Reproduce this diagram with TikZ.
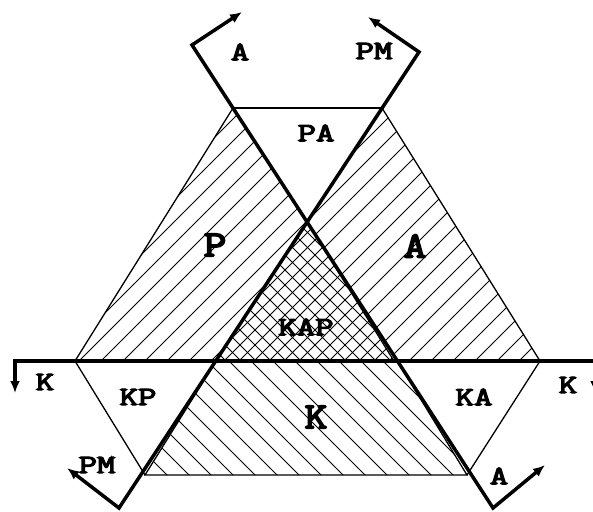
\documentclass[tikz,border=0pt]{standalone}
\usepackage{fontspec}
\newfontfamily\labfont{Latin Modern Mono}[FakeBold=4]
\usetikzlibrary{arrows.meta}
\tikzset{
  thickln/.style={line width=3.5pt, line join=miter, line cap=butt},
  thinln/.style={line width=1.3pt, line join=miter},
  hatchln/.style={line width=0.9pt},
  lab/.style={font=\labfont\bfseries\fontsize{26.5}{26.5}\selectfont, inner sep=0pt},
  biglab/.style={font=\labfont\bfseries\fontsize{37}{37}\selectfont, inner sep=0pt},
}
\newcommand{\wide}[1]{\scalebox{1.35}[1]{#1}}
\newcommand{\wideb}[1]{\scalebox{1.2}[1]{#1}}
\begin{document}
\begin{tikzpicture}[x=1pt,y=-1pt]
\useasboundingbox (0,0) rectangle (593,511);
% key points
\coordinate (C1) at (192,45);
\coordinate (C2) at (493,508);
\coordinate (C3) at (419,52);
\coordinate (C4) at (119,508);
\coordinate (X) at (307.2,222.2);
\coordinate (T1) at (233,108);
\coordinate (T2) at (382,108);
\coordinate (Lft) at (75,361);
\coordinate (R) at (540,361);
\coordinate (KL) at (216,361);
\coordinate (KR) at (397.4,361);
\coordinate (KAPR) at (394,361);
\coordinate (BL) at (145,475);
\coordinate (BR) at (467,475);
\coordinate (tipTL) at (242,12);
\coordinate (tipTR) at (368,17);
\coordinate (tipBL) at (67,468);
\coordinate (tipBR) at (545,465);
\coordinate (HL) at (15,361);
\coordinate (HLt) at (15,393);
\coordinate (HR) at (595,361);
\coordinate (HRt) at (595,393);

% hatching P and A (upward diagonal)
\begin{scope}
  \clip (Lft) -- (T1) -- (X) -- (KL) -- cycle;
  \foreach \c in {330,352,...,920} \draw[hatchln] (\c,0) -- ++(-700,700);
\end{scope}
\begin{scope}
  \clip (T2) -- (R) -- (KR) -- (X) -- cycle;
  \foreach \c in {330,352,...,920} \draw[hatchln] (\c,0) -- ++(-700,700);
\end{scope}
% hatching K (downward diagonal)
\begin{scope}
  \clip (KL) -- (KR) -- (BR) -- (BL) -- cycle;
  \foreach \c in {-352,-330,...,60} \draw[hatchln] (\c,0) -- ++(700,700);
\end{scope}
% cross hatching KAP
\begin{scope}
  \clip (X) -- (KL) -- (KAPR) -- cycle;
  \foreach \c in {510,525,...,780} \draw[hatchln] (\c,0) -- ++(-700,700);
  \foreach \c in {-165,-150,...,105} \draw[hatchln] (\c,0) -- ++(700,700);
\end{scope}

% thin outlines
\draw[thinln] (T1) -- (T2);
\draw[thinln] (Lft) -- (T1);
\draw[thinln] (T2) -- (R);
\draw[thinln] (Lft) -- (BL);
\draw[thinln] (KL) -- (BL) -- (BR) -- (KR);
\draw[thinln] (R) -- (BR);
\draw[thinln] (X) -- (KAPR);

% thick lines with arrows
\draw[thickln,{Latex[length=12pt,width=10pt]}-{Latex[length=12pt,width=10pt]}] (tipTL) -- (C1) -- (C2) -- (tipBR);
\draw[thickln,{Latex[length=12pt,width=10pt]}-{Latex[length=12pt,width=10pt]}] (tipTR) -- (C3) -- (C4) -- (tipBL);
\draw[thickln,{Latex[length=12pt,width=10pt]}-{Latex[length=12pt,width=10pt]}] (HLt) -- (HL) -- (HR) -- (HRt);

% labels
\node[lab] (lA1) at (240,52) {\wide{A}};
\node[lab] (lPM1) at (374,51) {\wide{PM}};
\node[lab] (lPA) at (316,133) {\wide{PA}};
\node[biglab] (lP) at (215,245) {\wideb{P}};
\node[biglab] (lA) at (415,246) {\wideb{A}};
\node[lab] (lKAP) at (306,327) {\wide{KAP}};
\node[lab] (lK1) at (45,382) {\wide{K}};
\node[lab] (lKP) at (138,397) {\wide{KP}};
\node[lab] (lKA) at (474,397) {\wide{KA}};
\node[lab] (lK2) at (568,385) {\wide{K}};
\node[biglab] (lK) at (316,417) {\wideb{K}};
\node[lab] (lPM2) at (97,465) {\wide{PM}};
\node[lab] (lA2) at (499,476) {\wide{A}};
\end{tikzpicture}
\end{document}
